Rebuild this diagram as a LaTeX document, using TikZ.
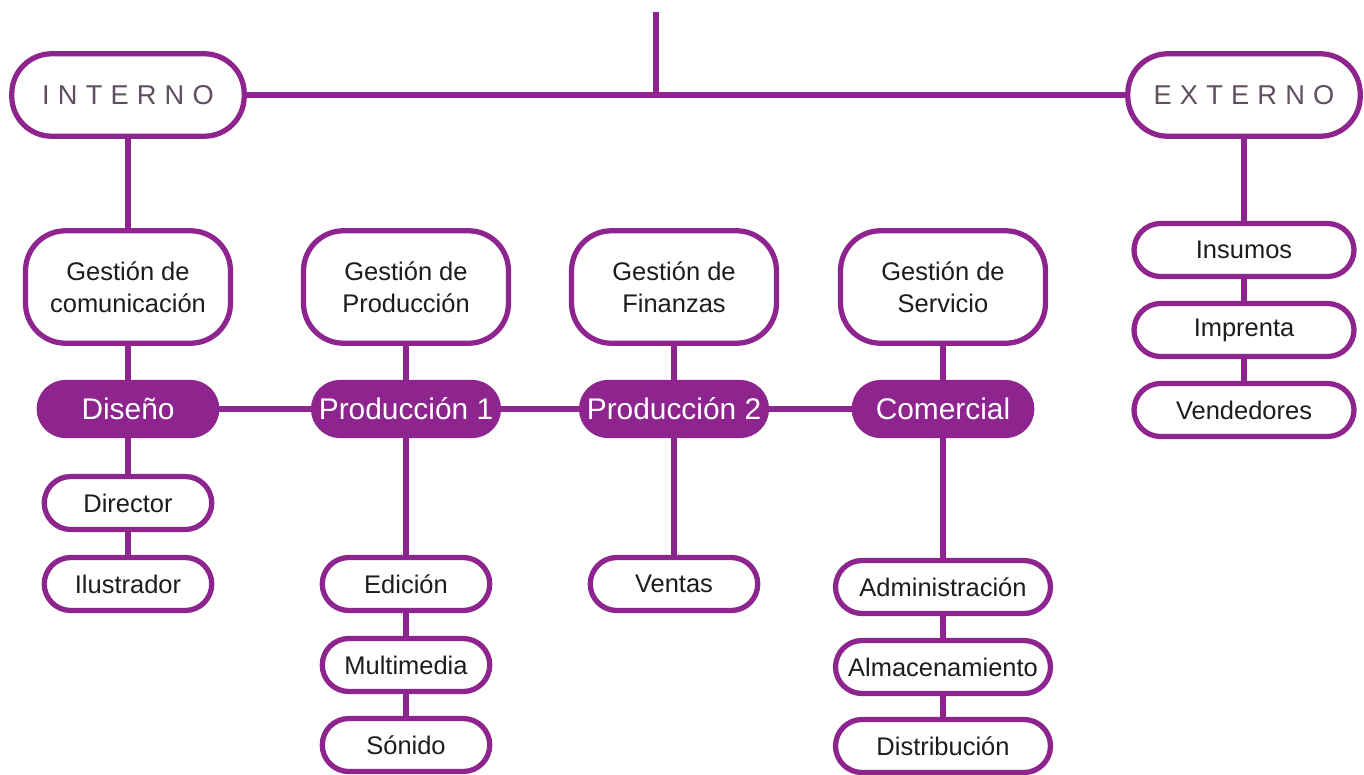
\documentclass[tikz,border=0pt]{standalone}
\usepackage{fontspec}
\setmainfont{Liberation Sans}
\definecolor{orgC} {RGB}{142,  36, 142}
\definecolor{txtC} {RGB}{ 30,  28,  30}
\definecolor{headC}{RGB}{ 95,  80,  95}
\newcommand{\lspaced}[1]{{\addfontfeature{LetterSpace=30}#1}}
\tikzset{
  link/.style    = {line width=3pt, color=orgC},
  sidebox/.style = {draw=orgC, line width=3pt, fill=white, rounded corners=0.8cm,
                    minimum width=4.65cm, minimum height=1.65cm, text=headC,
                    font=\fontsize{15.5}{18}\selectfont},
  gestbox/.style = {draw=orgC, line width=3pt, fill=white, rounded corners=0.8cm,
                    minimum width=4.1cm, minimum height=2.25cm, align=center,
                    text=txtC, font=\fontsize{14.5}{18}\selectfont},
  areabox/.style = {draw=orgC, line width=3pt, fill=orgC, rounded corners=0.53cm,
                    minimum width=3.55cm, minimum height=1.06cm, inner xsep=3pt,
                    text=white, font=\fontsize{17}{20}\selectfont},
  leaf/.style    = {draw=orgC, line width=3pt, fill=white, rounded corners=0.53cm,
                    minimum width=#1, minimum height=1.06cm, inner xsep=2pt,
                    text=txtC, font=\fontsize{14.5}{17.5}\selectfont},
  leaf/.default  = 3.35cm,
}

\begin{document}
\begin{tikzpicture}[x=0.02cm, y=-0.02cm]

% ---- Canvas: 1364 x 774 px, 1 px = 0.02 cm ---------------------------------
\useasboundingbox (0,0) rectangle (1364,774);

% ---- Top level --------------------------------------------------------------
\node[sidebox] (interno) at (128,95)  {\lspaced{INTERNO}};
\node[sidebox] (externo) at (1244,95) {\lspaced{EXTERNO}};
\coordinate (top) at (656,12);
\coordinate (hub) at (656,95);
\draw[link] (interno) -- (externo);
\draw[link] (top) -- (hub);

% ---- Management boxes -------------------------------------------------------
\node[gestbox] (gcom) at (128,287) {Gestión de\\comunicación};
\node[gestbox] (gprd) at (406,287) {Gestión de\\Producción};
\node[gestbox] (gfin) at (674,287) {Gestión de\\Finanzas};
\node[gestbox] (gser) at (943,287) {Gestión de\\Servicio};

% ---- Areas (filled) ---------------------------------------------------------
\node[areabox] (dsn)  at (128,409) {Diseño};
\node[areabox] (prd1) at (406,409) {Producción 1};
\node[areabox] (prd2) at (674,409) {Producción 2};
\node[areabox] (com)  at (943,409) {Comercial};

% ---- Leaves -----------------------------------------------------------------
\node[leaf] (dir) at (128,503) {Director};
\node[leaf] (ilu) at (128,584) {Ilustrador};

\node[leaf] (edi) at (406,584) {Edición};
\node[leaf] (mul) at (406,665) {Multimedia};
\node[leaf] (son) at (406,745) {Sónido};

\node[leaf] (ven) at (674,584) {Ventas};

\node[leaf=4.3cm] (adm) at (943,587) {Administración};
\node[leaf=4.3cm] (alm) at (943,667) {Almacenamiento};
\node[leaf=4.3cm] (dst) at (943,746) {Distribución};

\node[leaf=4.4cm] (ins) at (1244,250) {Insumos};
\node[leaf=4.4cm] (imp) at (1244,330) {Imprenta};
\node[leaf=4.4cm] (vnd) at (1244,410) {Vendedores};

% ---- Connectors -------------------------------------------------------------
\foreach \a/\b in {interno/gcom, gcom/dsn, gprd/prd1, gfin/prd2, gser/com,
                   dsn/prd1, prd1/prd2, prd2/com,
                   dsn/dir, dir/ilu, prd1/edi, edi/mul, mul/son, prd2/ven,
                   com/adm, adm/alm, alm/dst,
                   externo/ins, ins/imp, imp/vnd}
  \draw[link] (\a) -- (\b);

\end{tikzpicture}
\end{document}
